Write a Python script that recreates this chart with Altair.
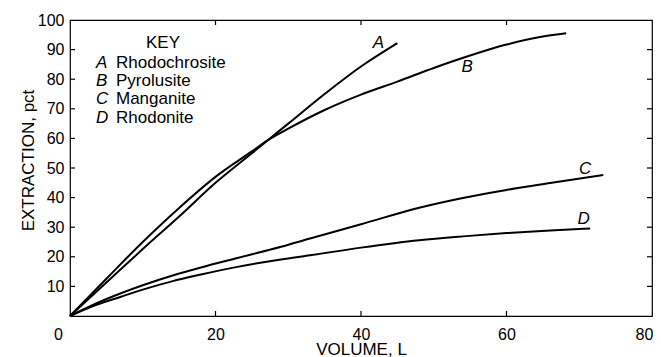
import altair as alt
import pandas as pd

# Curve data (VOLUME L -> EXTRACTION pct)
A_x = [0, 5, 10, 15, 20, 25, 27.2, 30, 35, 40, 45]
A_y = [0, 11.3, 22.6, 33.6, 45.0, 55.0, 59.4, 65.0, 75.0, 84.3, 92.2]

B_x = [0, 5, 10, 15, 20, 25, 27.2, 30, 35, 40, 45, 50, 55, 60, 65, 68.2]
B_y = [0, 12.6, 25.0, 36.5, 47.0, 55.6, 59.4, 63.3, 69.6, 74.8, 79.2, 83.8, 88.0, 91.7, 94.4, 95.5]

C_x = [0, 3, 7, 10, 14, 18, 23, 29, 33, 40, 48, 54, 60, 66, 73.3]
C_y = [0, 3.6, 7.7, 10.4, 13.6, 16.4, 19.6, 23.4, 26.2, 31.0, 36.6, 39.9, 42.6, 44.9, 47.6]

D_x = [0, 3, 7, 10, 14, 18, 23, 29, 33, 40, 48, 54, 60, 66, 71.5]
D_y = [0, 3.2, 6.5, 8.9, 11.7, 14.0, 16.6, 19.1, 20.5, 23.1, 25.6, 26.9, 28.0, 28.9, 29.6]

# Curve letter labels (anchor in data units)
label_letters = ["A", "B", "C", "D"]
label_x = [42.4, 54.6, 70.8, 70.6]
label_y = [92.1, 84.2, 49.8, 32.7]

# Key
key_title = "KEY"
key_letters = ["A", "B", "C", "D"]
key_names = ["Rhodochrosite", "Pyrolusite", "Manganite", "Rhodonite"]

x_ticks = [0, 20, 40, 60, 80]
y_ticks = [10, 20, 30, 40, 50, 60, 70, 80, 90, 100]
inner_x_ticks = [20, 40, 60]
inner_y_ticks = [10, 20, 30, 40, 50, 60, 70, 80, 90]

W, H = 582, 296
TICK = 5
FONT = "Liberation Sans"

rows = []
for name, xs_, ys_ in [("A", A_x, A_y), ("B", B_x, B_y), ("C", C_x, C_y), ("D", D_x, D_y)]:
    for i, (xv, yv) in enumerate(zip(xs_, ys_)):
        rows.append({"series": name, "x": xv, "y": yv, "order": i})
df = pd.DataFrame(rows)
df_lab = pd.DataFrame({"t": label_letters, "x": label_x, "y": label_y})
df_key = pd.DataFrame({"letters": ["\n".join(key_letters)],
                       "names": ["\n".join(key_names)],
                       "title": [key_title]})
df_xt = pd.DataFrame({"x": inner_x_ticks})
df_yt = pd.DataFrame({"y": inner_y_ticks})

xs = alt.Scale(domain=[0, 80], nice=False, zero=False)
ys = alt.Scale(domain=[0, 100], nice=False, zero=False)

main_x_axis = alt.Axis(
    values=x_ticks, ticks=False, tickSize=0, domain=False, grid=False,
    labelFont=FONT, labelFontSize=16, labelColor="black", labelPadding=10,
    labelFlush=False, labelOverlap=False,
    labelOffset={"condition": [{"test": "datum.value == 0", "value": -12},
                               {"test": "datum.value == 80", "value": -8}],
                 "value": 0},
    title="VOLUME, L", titleFont=FONT, titleFontSize=17, titleFontWeight="normal",
    titleColor="black", titleBaseline="middle", titleY=33,
)
main_y_axis = alt.Axis(
    values=y_ticks, ticks=False, tickSize=0, domain=False, grid=False,
    labelFont=FONT, labelFontSize=16, labelColor="black", labelPadding=6,
    labelOverlap=False, labelFlush=False,
    title="EXTRACTION, pct", titleFont=FONT, titleFontSize=17, titleFontWeight="normal",
    titleColor="black", titleBaseline="middle", titleAlign="center",
    titleX=-42, titleY=140, titleAngle=270,
)

X = lambda: alt.X("x:Q", scale=xs, axis=main_x_axis, title="VOLUME, L")
Y = lambda: alt.Y("y:Q", scale=ys, axis=main_y_axis, title="EXTRACTION, pct")

lines = alt.Chart(df).mark_line(color="black", strokeWidth=2, interpolate="monotone").encode(
    x=X(), y=Y(),
    detail="series:N",
    order="order:Q",
)

tick_style = dict(color="black", strokeWidth=1.2)
xt_bottom = alt.Chart(df_xt).mark_rule(**tick_style).encode(
    x=X(), y=alt.value(H), y2=alt.value(H - TICK))
xt_top = alt.Chart(df_xt).mark_rule(**tick_style).encode(
    x=X(), y=alt.value(0), y2=alt.value(TICK))
yt_left = alt.Chart(df_yt).mark_rule(**tick_style).encode(
    y=Y(), x=alt.value(0), x2=alt.value(TICK))
yt_right = alt.Chart(df_yt).mark_rule(**tick_style).encode(
    y=Y(), x=alt.value(W), x2=alt.value(W - TICK))

labels = alt.Chart(df_lab).mark_text(
    font=FONT, fontSize=17, fontStyle="italic", color="black", align="center", baseline="middle"
).encode(x=X(), y=Y(), text="t:N")

key_t = alt.Chart(df_key).mark_text(
    font=FONT, fontSize=17, color="black", align="center", baseline="middle"
).encode(x=alt.value(93), y=alt.value(23), text="title:N")

key_l = alt.Chart(df_key).mark_text(
    font=FONT, fontSize=17, fontStyle="italic", color="black", align="left",
    baseline="top", lineBreak="\n", lineHeight=18.2
).encode(x=alt.value(26), y=alt.value(35), text="letters:N")

key_n = alt.Chart(df_key).mark_text(
    font=FONT, fontSize=17, color="black", align="left",
    baseline="top", lineBreak="\n", lineHeight=18.2
).encode(x=alt.value(46), y=alt.value(35), text="names:N")

chart = alt.layer(lines, xt_bottom, xt_top, yt_left, yt_right, labels, key_t, key_l, key_n).properties(
    width=W, height=H,
    autosize=alt.AutoSizeParams(type="none"),
    padding={"left": 62, "top": 12, "right": 1, "bottom": 41},
    background="white",
).configure_view(stroke="black", strokeWidth=1.2)

chart.save("out.html", embed_options={"renderer": "svg", "actions": False})
